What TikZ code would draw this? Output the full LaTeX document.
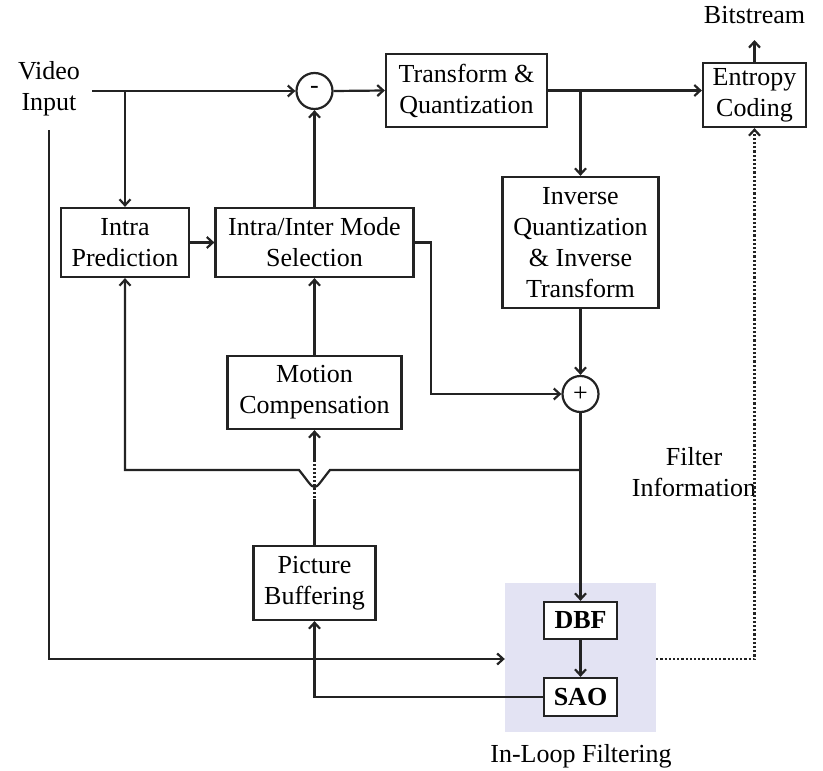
\documentclass[tikz,border=0pt]{standalone}
\usepackage{fontspec}
\setmainfont{Liberation Serif}
\usetikzlibrary{arrows.meta,calc}
\definecolor{lc}{RGB}{35,35,35}
\definecolor{shadec}{RGB}{227,227,243}
\begin{document}
\begin{tikzpicture}[x=1pt,y=-1pt,font=\fontsize{26}{31}\selectfont,
  box/.style={draw=lc,line width=2.2pt,fill=white,inner sep=0pt,align=center,text=black},
  sumc/.style={draw=lc,line width=2.2pt,circle,minimum size=36pt,inner sep=0pt,fill=white},
  conn/.style={draw=lc,line width=2.2pt,-{Straight Barb[length=6pt,width=11pt]}},
  lbl/.style={align=center,inner sep=0pt,text=black}]
\useasboundingbox (0,0) rectangle (823,771);

% shaded in-loop filtering area
\node[fill=shadec,minimum width=151pt,minimum height=149pt,inner sep=0pt] (ilf) at (580.5,657.5) {};

% labels
\node[lbl] (vin) at (49,89) {Video\\Input};
\node[lbl] (bs) at (754.5,15) {Bitstream};
\node[lbl] (ilfl) at (581,756) {In-Loop Filtering};
\node[lbl] (fi) at (694,472) {Filter\\Information};

% blocks
\node[box,minimum width=161pt,minimum height=73pt] (tq) at (466.5,90.5) {Transform \&\\Quantization};
\node[box,minimum width=103pt,minimum height=64pt] (ec) at (754.5,95) {Entropy\\Coding};
\node[box,minimum width=128pt,minimum height=69pt] (ip) at (125,242.5) {Intra\\Prediction};
\node[box,minimum width=198pt,minimum height=69pt] (ms) at (314.5,242.5) {Intra/Inter Mode\\Selection};
\node[box,minimum width=156pt,minimum height=131pt] (iq) at (580.5,242.5) {Inverse\\Quantization\\\& Inverse\\Transform};
\node[box,minimum width=174pt,minimum height=73pt] (mc) at (314.5,392.5) {Motion\\Compensation};
\node[box,minimum width=122pt,minimum height=74pt] (pb) at (314.5,583) {Picture\\Buffering};
\node[box,minimum width=73pt,minimum height=37pt,font=\fontsize{26}{31}\selectfont\bfseries] (dbf) at (580.5,620.5) {DBF};
\node[box,minimum width=73pt,minimum height=38pt,font=\fontsize{26}{31}\selectfont\bfseries] (sao) at (580.5,697) {SAO};
\node[sumc] (minus) at (314.5,91) {\raisebox{2pt}{-}};
\node[sumc] (plus) at (580.5,394) {+};

% free-end coordinates
\coordinate (vinR) at (92,91);
\coordinate (vinB) at (49,130);
\coordinate (bsT) at (754.5,40);
\coordinate (fb) at (580.5,470);

% connectors
\draw[conn] (vinR) -- (minus.west);
\draw[conn] (ip.north |- vinR) -- (ip.north);
\draw[conn] (minus.east) -- (tq.west);
\draw[conn] (tq.east) -- (tq.east -| ec.west);
\draw[conn] (iq.north |- tq.east) -- (iq.north);
\draw[conn] (ec.north) -- (bsT);
\draw[conn] (ip.east) -- (ms.west);
\draw[conn] (ms.north) -- (minus.south);
\draw[conn] (ms.east) -- ++(16,0) |- (plus.west);
\draw[conn] (iq.south) -- (plus.north);
\draw[conn] (mc.north) -- (ms.south);
\draw[conn] (plus.south) -- (dbf.north);
\draw[conn] (dbf.south) -- (sao.north);
\draw[conn] (pb.north) -- (mc.south);
\draw[white,line width=2.4pt,dash pattern=on 2pt off 2pt] (314.5,462) -- (314.5,499);
\draw[conn] (fb) -- (330,470) .. controls (321,481) and (318,487) .. (314.5,487)
  .. controls (311,487) and (308,481) .. (299,470) -| (ip.south);
\draw[conn] (sao.west) -| (pb.south);
\draw[conn] (vinB) |- (ilf.west |- 0,659);
\draw[conn,dotted] (ilf.east |- 0,659) -| (ec.south);
\end{tikzpicture}
\end{document}
